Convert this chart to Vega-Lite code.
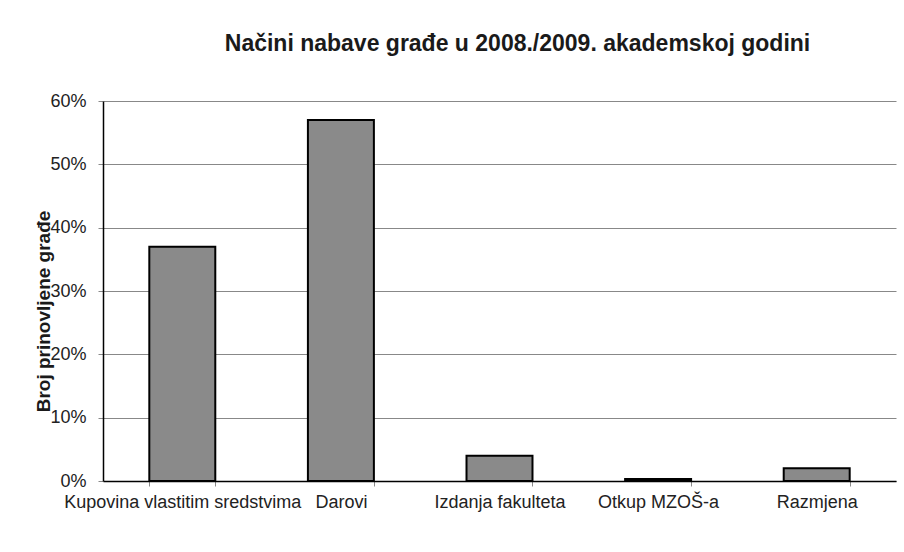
{
  "$schema": "https://vega.github.io/schema/vega-lite/v6.json",
  "width": 793,
  "height": 380,
  "autosize": {"type": "none"},
  "padding": {"left": 103, "top": 101, "right": 8, "bottom": 71},
  "background": "white",
  "config": {"view": {"stroke": null}, "font": "Liberation Sans"},
  "title": {
    "text": "Načini nabave građe u 2008./2009. akademskoj godini",
    "fontSize": 23,
    "fontWeight": "bold",
    "font": "Liberation Sans",
    "color": "#1a1a1a",
    "offset": 36,
    "dx": 18
  },
  "data": {
    "values": [
      {"nacin": "Kupovina vlastitim sredstvima", "udio": 0.37},
      {"nacin": "Darovi", "udio": 0.57},
      {"nacin": "Izdanja fakulteta", "udio": 0.04},
      {"nacin": "Otkup MZOŠ-a", "udio": 0.003},
      {"nacin": "Razmjena", "udio": 0.02}
    ]
  },
  "mark": {"type": "bar", "fill": "#8a8a8a", "stroke": "#000000", "strokeWidth": 2},
  "encoding": {
    "x": {
      "field": "nacin",
      "type": "nominal",
      "sort": null,
      "scale": {"paddingInner": 0.584, "paddingOuter": 0.292},
      "axis": {
        "title": null,
        "labelAngle": 0,
        "labelFontSize": 18,
        "labelColor": "#222222",
        "labelPadding": 7,
        "labelOverlap": false,
        "labelLimit": 400,
        "domainColor": "#000000",
        "domainWidth": 1.5,
        "tickColor": "#888888",
        "tickSize": 5,
        "tickBand": "extent",
        "grid": false
      }
    },
    "y": {
      "field": "udio",
      "type": "quantitative",
      "scale": {"domain": [0, 0.6]},
      "axis": {
        "title": "Broj prinovljene građe",
        "titleFontSize": 19,
        "titleFontWeight": "bold",
        "titleColor": "#1a1a1a",
        "titleAngle": -90,
        "titleX": -60,
        "titleY": 210,
        "titleAlign": "center",
        "titleBaseline": "middle",
        "format": ".0%",
        "values": [0, 0.1, 0.2, 0.3, 0.4, 0.5, 0.6],
        "labelFontSize": 18,
        "labelColor": "#222222",
        "labelPadding": 12,
        "domainColor": "#000000",
        "domainWidth": 1.5,
        "tickColor": "#888888",
        "tickSize": 5,
        "gridColor": "#888888",
        "gridWidth": 1
      }
    }
  }
}
